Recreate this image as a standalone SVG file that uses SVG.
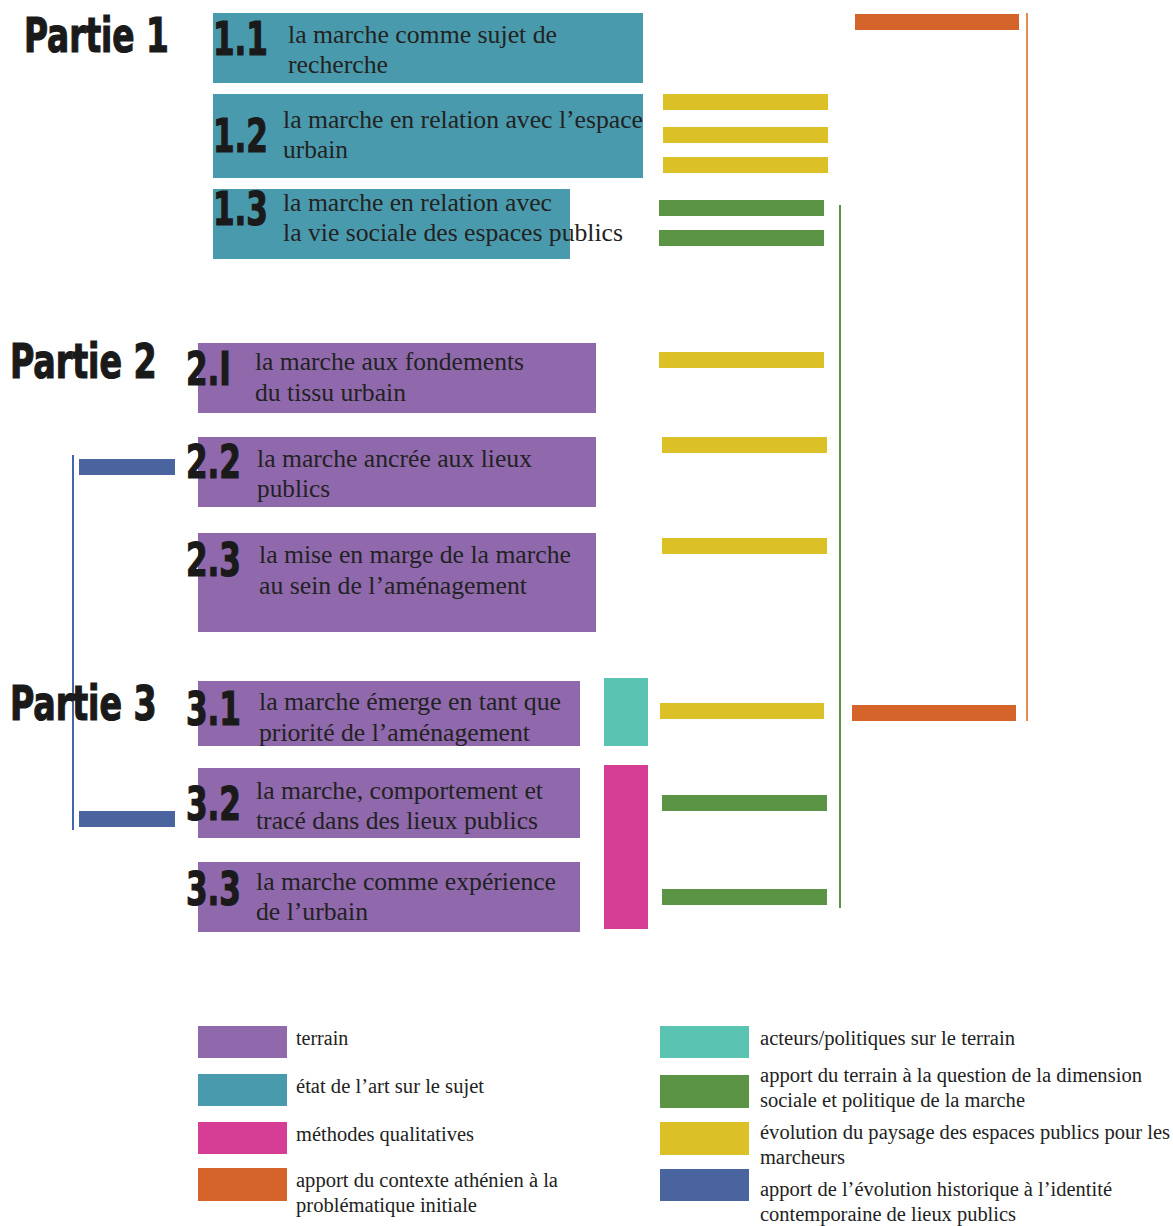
<svg xmlns="http://www.w3.org/2000/svg" width="1173" height="1226" viewBox="0 0 1173 1226">
<style>
.bg{fill:#ffffff}
.teal{fill:#4a9aad}
.purple{fill:#9069ad}
.magenta{fill:#d63d95}
.orange{fill:#d5642a}
.yellow{fill:#dbc127}
.green{fill:#5a9444}
.aqua{fill:#5bc3b1}
.blue{fill:#4a64a0}
.part{font-family:"DejaVu Sans Condensed","DejaVu Sans","Liberation Sans",sans-serif;font-weight:bold;font-size:48px;fill:#1a1a1a;stroke:#1a1a1a;stroke-width:1.2}
.num{font-family:"DejaVu Sans Condensed","DejaVu Sans","Liberation Sans",sans-serif;font-weight:bold;font-size:46px;fill:#1a1a1a;stroke:#1a1a1a;stroke-width:1.2}
.t{font-family:"Liberation Serif","DejaVu Serif",serif;font-size:25px;fill:#222222}
.lg{font-family:"Liberation Serif","DejaVu Serif",serif;font-size:20px;fill:#222222}
</style>
<rect class="bg" x="0" y="0" width="1173" height="1226"/>

<g id="connectors">
  <line x1="1027" y1="13" x2="1027" y2="721" stroke="#e98a55" stroke-width="2"/>
  <line x1="840" y1="205" x2="840" y2="908" stroke="#5a9444" stroke-width="2"/>
  <line x1="73" y1="455" x2="73" y2="830" stroke="#4466b0" stroke-width="2"/>
</g>

<g id="partie1-label"><text class="part" transform="translate(24,52) scale(0.76,1)">Partie 1</text></g>
<g id="partie2-label"><text class="part" transform="translate(10,378) scale(0.77,1)">Partie 2</text></g>
<g id="partie3-label"><text class="part" transform="translate(10,720) scale(0.77,1)">Partie 3</text></g>

<g id="n11">
  <rect class="teal" x="213" y="13" width="430" height="70"/>
  <text class="num" transform="translate(213,55) scale(0.75,1)">1.1</text>
  <text class="t" x="288" y="43" textLength="269" lengthAdjust="spacingAndGlyphs">la marche comme sujet de</text>
  <text class="t" x="288" y="73" textLength="100" lengthAdjust="spacingAndGlyphs">recherche</text>
</g>
<g id="n12">
  <rect class="teal" x="213" y="94" width="430" height="84"/>
  <text class="num" transform="translate(213,152) scale(0.75,1)">1.2</text>
  <text class="t" x="283" y="128" textLength="360" lengthAdjust="spacingAndGlyphs">la marche en relation avec l’espace</text>
  <text class="t" x="283" y="158" textLength="65" lengthAdjust="spacingAndGlyphs">urbain</text>
</g>
<g id="n13">
  <rect class="teal" x="213" y="189" width="357" height="70"/>
  <text class="num" transform="translate(213,225) scale(0.75,1)">1.3</text>
  <text class="t" x="283" y="211" textLength="269" lengthAdjust="spacingAndGlyphs">la marche en relation avec</text>
  <text class="t" x="283" y="241" textLength="340" lengthAdjust="spacingAndGlyphs">la vie sociale des espaces publics</text>
</g>

<g id="n21">
  <rect class="purple" x="198" y="343" width="398" height="70"/>
  <text class="num" transform="translate(186,385) scale(0.75,1)">2.I</text>
  <text class="t" x="255" y="370" textLength="269" lengthAdjust="spacingAndGlyphs">la marche aux fondements</text>
  <text class="t" x="255" y="401" textLength="151" lengthAdjust="spacingAndGlyphs">du tissu urbain</text>
</g>
<g id="n22">
  <rect class="purple" x="198" y="437" width="398" height="70"/>
  <text class="num" transform="translate(186,478) scale(0.75,1)">2.2</text>
  <text class="t" x="257" y="467" textLength="275" lengthAdjust="spacingAndGlyphs">la marche ancrée aux lieux</text>
  <text class="t" x="257" y="497" textLength="73" lengthAdjust="spacingAndGlyphs">publics</text>
</g>
<g id="n23">
  <rect class="purple" x="198" y="533" width="398" height="99"/>
  <text class="num" transform="translate(186,576) scale(0.75,1)">2.3</text>
  <text class="t" x="259" y="563" textLength="312" lengthAdjust="spacingAndGlyphs">la mise en marge de la marche</text>
  <text class="t" x="259" y="594" textLength="268" lengthAdjust="spacingAndGlyphs">au sein de l’aménagement</text>
</g>

<g id="n31">
  <rect class="purple" x="198" y="681" width="382" height="65"/>
  <text class="num" transform="translate(186,725) scale(0.75,1)">3.1</text>
  <text class="t" x="259" y="710" textLength="302" lengthAdjust="spacingAndGlyphs">la marche émerge en tant que</text>
  <text class="t" x="259" y="741" textLength="271" lengthAdjust="spacingAndGlyphs">priorité de l’aménagement</text>
</g>
<g id="n32">
  <rect class="purple" x="198" y="768" width="382" height="70"/>
  <text class="num" transform="translate(186,820) scale(0.75,1)">3.2</text>
  <text class="t" x="256" y="799" textLength="287" lengthAdjust="spacingAndGlyphs">la marche, comportement et</text>
  <text class="t" x="256" y="829" textLength="282" lengthAdjust="spacingAndGlyphs">tracé dans des lieux publics</text>
</g>
<g id="n33">
  <rect class="purple" x="198" y="862" width="382" height="70"/>
  <text class="num" transform="translate(186,905) scale(0.75,1)">3.3</text>
  <text class="t" x="256" y="890" textLength="300" lengthAdjust="spacingAndGlyphs">la marche comme expérience</text>
  <text class="t" x="256" y="920" textLength="112" lengthAdjust="spacingAndGlyphs">de l’urbain</text>
</g>

<g id="bars">
  <rect class="orange" x="855" y="14" width="164" height="16"/>
  <rect class="orange" x="852" y="705" width="164" height="16"/>
  <rect class="yellow" x="663" y="94" width="165" height="16"/>
  <rect class="yellow" x="663" y="127" width="165" height="16"/>
  <rect class="yellow" x="663" y="157" width="165" height="16"/>
  <rect class="green" x="659" y="200" width="165" height="16"/>
  <rect class="green" x="659" y="230" width="165" height="16"/>
  <rect class="yellow" x="659" y="352" width="165" height="16"/>
  <rect class="yellow" x="662" y="437" width="165" height="16"/>
  <rect class="yellow" x="662" y="538" width="165" height="16"/>
  <rect class="yellow" x="660" y="703" width="164" height="16"/>
  <rect class="green" x="662" y="795" width="165" height="16"/>
  <rect class="green" x="662" y="889" width="165" height="16"/>
  <rect class="blue" x="79" y="459" width="96" height="16"/>
  <rect class="blue" x="79" y="811" width="96" height="16"/>
  <rect class="aqua" x="604" y="678" width="44" height="68"/>
  <rect class="magenta" x="604" y="765" width="44" height="164"/>
</g>

<g id="legend">
  <rect class="purple" x="198" y="1026" width="89" height="32"/>
  <text class="lg" x="296" y="1045">terrain</text>
  <rect class="teal" x="198" y="1074" width="89" height="32"/>
  <text class="lg" x="296" y="1093" textLength="188" lengthAdjust="spacingAndGlyphs">état de l’art sur le sujet</text>
  <rect class="magenta" x="198" y="1122" width="89" height="32"/>
  <text class="lg" x="296" y="1141" textLength="178" lengthAdjust="spacingAndGlyphs">méthodes qualitatives</text>
  <rect class="orange" x="198" y="1168" width="89" height="33"/>
  <text class="lg" x="296" y="1187" textLength="262" lengthAdjust="spacingAndGlyphs">apport du contexte athénien à la</text>
  <text class="lg" x="296" y="1212" textLength="181" lengthAdjust="spacingAndGlyphs">problématique initiale</text>

  <rect class="aqua" x="660" y="1026" width="89" height="32"/>
  <text class="lg" x="760" y="1045" textLength="255" lengthAdjust="spacingAndGlyphs">acteurs/politiques sur le terrain</text>
  <rect class="green" x="660" y="1075" width="89" height="33"/>
  <text class="lg" x="760" y="1082" textLength="382" lengthAdjust="spacingAndGlyphs">apport du terrain à la question de la dimension</text>
  <text class="lg" x="760" y="1107" textLength="265" lengthAdjust="spacingAndGlyphs">sociale et politique de la marche</text>
  <rect class="yellow" x="660" y="1122" width="89" height="33"/>
  <text class="lg" x="760" y="1139" textLength="410" lengthAdjust="spacingAndGlyphs">évolution du paysage des espaces publics pour les</text>
  <text class="lg" x="760" y="1164" textLength="85" lengthAdjust="spacingAndGlyphs">marcheurs</text>
  <rect class="blue" x="660" y="1169" width="89" height="32"/>
  <text class="lg" x="760" y="1196" textLength="352" lengthAdjust="spacingAndGlyphs">apport de l’évolution historique à l’identité</text>
  <text class="lg" x="760" y="1221" textLength="256" lengthAdjust="spacingAndGlyphs">contemporaine de lieux publics</text>
</g>
</svg>
